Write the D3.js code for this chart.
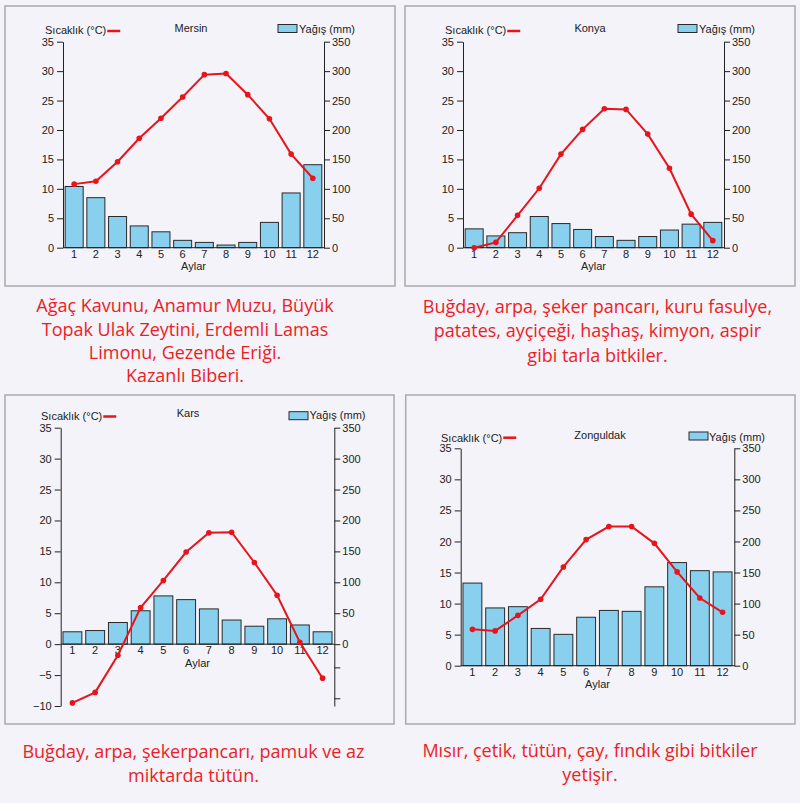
<!DOCTYPE html>
<html><head><meta charset="utf-8">
<script src="https://cdn.jsdelivr.net/npm/d3@7/dist/d3.min.js"></script>
<style>
html,body{margin:0;padding:0;background:#f3f3f9;}
svg{display:block;}
.ax text{font-family:"Liberation Sans",Arial,sans-serif;font-size:11px;fill:#222;}
.ax path,.ax line{stroke:#222;stroke-width:1;}
.lbl{font-family:"Liberation Sans",Arial,sans-serif;font-size:11px;fill:#222;}
.cap{font-family:"Open Sans",sans-serif;font-size:18px;fill:#ee1c25;}
</style></head>
<body>
<svg id="c" width="800" height="803"></svg>
<script>
// ---- data ----
const monthLabels = ["1","2","3","4","5","6","7","8","9","10","11","12"];
const tempTicks = [0,5,10,15,20,25,30,35];
const karsTempTicks = [-10,-5,0,5,10,15,20,25,30,35];
const rainTicks = [0,50,100,150,200,250,300,350];
const karsRainBlankTicks = [-37.5,-87.5];

const mersinTemp = [10.8,11.3,14.6,18.6,22.0,25.6,29.4,29.6,26.0,21.9,15.9,11.8];
const mersinRain = [104,85,53,37,27,12.5,9,4.5,9,43,93,141];
const konyaTemp  = [0,0.9,5.5,10.1,15.9,20.1,23.6,23.5,19.3,13.5,5.7,1.2];
const konyaRain  = [32,20,25.5,53,41,31,19,12.5,19,30,40,43];
const karsTemp   = [-9.5,-7.8,-1.8,5.9,10.3,14.9,18.0,18.1,13.2,7.9,0.3,-5.5];
const karsRain   = [20,22,35,54,78,72,57,39,29,41,31,20];
const zongTemp   = [5.85,5.6,8.1,10.7,15.9,20.3,22.4,22.4,19.7,15.1,10.9,8.6];
const zongRain   = [133,93,95,60,50.5,78,89,87.5,127,166,153,151];

const cityNames = ["Mersin","Konya","Kars","Zonguldak"];
const tempLabel = "Sıcaklık (°C)";
const rainLabel = "Yağış (mm)";
const xTitle = "Aylar";
const captions = [
  ["Ağaç Kavunu, Anamur Muzu, Büyük","Topak Ulak Zeytini, Erdemli Lamas","Limonu, Gezende Eriği.","Kazanlı Biberi."],
  ["Buğday, arpa, şeker pancarı, kuru fasulye,","patates, ayçiçeği, haşhaş, kimyon, aspir","gibi tarla bitkiler."],
  ["Buğday, arpa, şekerpancarı, pamuk ve az","miktarda tütün."],
  ["Mısır, çetik, tütün, çay, fındık gibi bitkiler","yetişir."]
];

// ---- layout ----
const svg = d3.select("#c");
const RED = "#e8141c";
const BLUE = "#89d0ee";

const panels = [
  {name:cityNames[0], temp:mersinTemp, rain:mersinRain, tTicks:tempTicks, tDom:[0,35], rDom:[0,350], rBlank:[],
   box:[5,6,390,280], L:63, R:324, yTop:41.7, yBot:247.7, titleX:191, titleY:32,
   legX:45, legY:34, legLineY:31, rectX:278, rectY:24.5, txtX:299, txtY:33},
  {name:cityNames[1], temp:konyaTemp, rain:konyaRain, tTicks:tempTicks, tDom:[0,35], rDom:[0,350], rBlank:[],
   box:[405,6,390,280], L:463, R:724, yTop:41.7, yBot:247.7, titleX:590, titleY:32,
   legX:445, legY:34, legLineY:31, rectX:678, rectY:24.5, txtX:699, txtY:33},
  {name:cityNames[2], temp:karsTemp, rain:karsRain, tTicks:karsTempTicks, tDom:[-10,35], rDom:[-100,350], rBlank:karsRainBlankTicks,
   box:[5,395,389,329], L:60.7, R:334.3, yTop:427.7, yBot:706, titleX:188, titleY:417,
   legX:41, legY:419.5, legLineY:416.5, rectX:289, rectY:411.7, txtX:309.5, txtY:419},
  {name:cityNames[3], temp:zongTemp, rain:zongRain, tTicks:tempTicks, tDom:[0,35], rDom:[0,350], rBlank:[],
   box:[405.7,395,389.3,329], L:460.7, R:734.3, yTop:448.3, yBot:665.7, titleX:600, titleY:439,
   legX:441, legY:441.5, legLineY:437.7, rectX:689, rectY:432, txtX:709, txtY:441}
];

panels.forEach(p => {
  const g = svg.append("g");
  g.append("rect").attr("x",p.box[0]).attr("y",p.box[1]).attr("width",p.box[2]).attr("height",p.box[3])
    .attr("fill","#f3f3f9").attr("stroke","#ababab").attr("stroke-width",1.5);

  const yT = d3.scaleLinear().domain([p.tDom[0],35]).range([p.yBot,p.yTop]);
  const yR = d3.scaleLinear().domain(p.rDom).range([p.yBot,p.yTop]);
  const x = d3.scaleBand().domain(monthLabels).range([p.L,p.R]).paddingInner(0.17).paddingOuter(0.1);
  const y0 = yT(0);

  // bars
  g.selectAll("rect.bar").data(p.rain).join("rect").attr("class","bar")
    .attr("x",(d,i)=>x(monthLabels[i])).attr("width",x.bandwidth())
    .attr("y",d=>yR(d)).attr("height",d=>yR(0)-yR(d))
    .attr("fill",BLUE).attr("stroke","#2a2a2a").attr("stroke-width",1);

  // left axis
  g.append("g").attr("class","ax").attr("transform",`translate(${p.L},0)`)
    .call(d3.axisLeft(yT).tickValues(p.tTicks).tickSize(6).tickPadding(3).tickSizeOuter(0));
  // right axis
  g.append("g").attr("class","ax").attr("transform",`translate(${p.R},0)`)
    .call(d3.axisRight(yR).tickValues(rainTicks.concat(p.rBlank)).tickSize(6).tickPadding(2).tickSizeOuter(0)
      .tickFormat(d => rainTicks.includes(d) ? d : ""));
  // x baseline
  g.append("line").attr("x1",p.L).attr("x2",p.R).attr("y1",y0).attr("y2",y0).attr("stroke","#222").attr("stroke-width",1);
  // month labels
  const xa = g.append("g").attr("class","ax").attr("transform",`translate(0,${y0})`)
    .call(d3.axisBottom(x).tickSize(0).tickPadding(2));
  xa.select(".domain").remove();
  g.append("text").attr("class","lbl").attr("x",(p.L+p.R)/2).attr("y",y0+22.5).attr("text-anchor","middle").text(xTitle);

  // temperature line
  const line = d3.line().x((d,i)=>x(monthLabels[i])+x.bandwidth()/2).y(d=>yT(d));
  g.append("path").datum(p.temp).attr("d",line).attr("fill","none").attr("stroke",RED).attr("stroke-width",2);
  g.selectAll("circle").data(p.temp).join("circle")
    .attr("cx",(d,i)=>x(monthLabels[i])+x.bandwidth()/2).attr("cy",d=>yT(d)).attr("r",2.8).attr("fill",RED);

  // title & legends
  g.append("text").attr("class","lbl").attr("x",p.titleX).attr("y",p.titleY).attr("text-anchor","middle").text(p.name);
  const lt = g.append("text").attr("class","lbl").attr("x",p.legX).attr("y",p.legY).text(tempLabel);
  const tw = lt.node().getComputedTextLength();
  g.append("line").attr("x1",p.legX+tw+1).attr("x2",p.legX+tw+14).attr("y1",p.legLineY).attr("y2",p.legLineY)
    .attr("stroke",RED).attr("stroke-width",2.5);
  g.append("rect").attr("x",p.rectX).attr("y",p.rectY).attr("width",19).attr("height",8)
    .attr("fill",BLUE).attr("stroke","#2a2a2a").attr("stroke-width",1);
  g.append("text").attr("class","lbl").attr("x",p.txtX).attr("y",p.txtY).text(rainLabel);
});

// captions
const capPos = [
  {x:185, ys:[311.5,336,359,381.5]},
  {x:597.5, ys:[313.3,337.3,361.7]},
  {x:193.5, ys:[757.5,781.5]},
  {x:590, ys:[756.5,780.5]}
];
captions.forEach((lines,k) => {
  lines.forEach((t,j) => {
    svg.append("text").attr("class","cap").attr("x",capPos[k].x).attr("y",capPos[k].ys[j])
      .attr("text-anchor","middle").text(t);
  });
});
</script>
</body></html>
